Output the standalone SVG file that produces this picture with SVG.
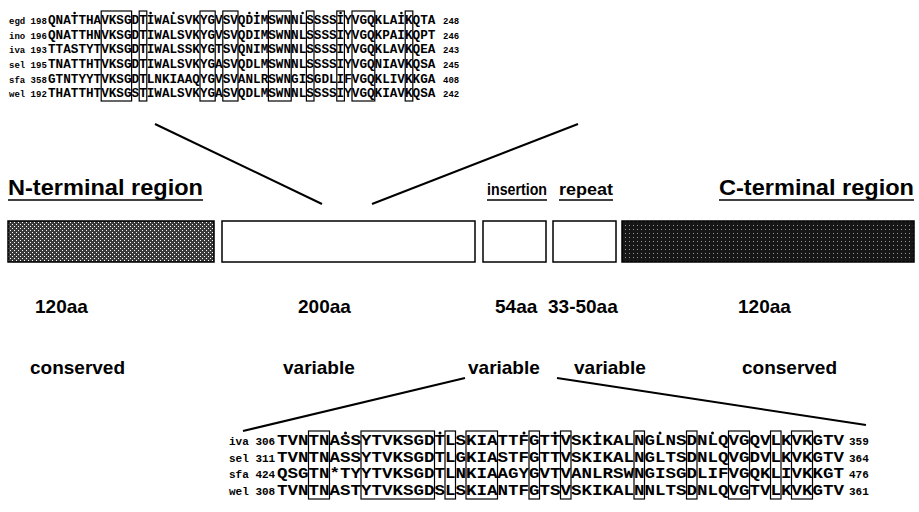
<svg xmlns="http://www.w3.org/2000/svg" width="919" height="512" viewBox="0 0 919 512">
<defs>
<pattern id="pn" width="4" height="4" patternUnits="userSpaceOnUse"><rect width="4" height="4" fill="#3a3a3a"/><rect x="0" y="0" width="1" height="1" fill="#fff"/><rect x="2" y="2" width="1" height="1" fill="#fff"/></pattern>
<pattern id="pc" width="4" height="4" patternUnits="userSpaceOnUse"><rect width="4" height="4" fill="#161616"/><rect x="1" y="1" width="1" height="1" fill="#999"/></pattern>
<style>
.seq{font-family:"Liberation Mono",monospace;font-weight:bold;font-size:12.67px;fill:#000}
.bseq{font-family:"Liberation Mono",monospace;font-weight:bold;font-size:14.5px;fill:#000}
.lab{font-family:"Liberation Mono",monospace;font-weight:bold;font-size:9px;fill:#000}
.blab{font-family:"Liberation Mono",monospace;font-weight:bold;font-size:11px;fill:#000}
.bx{fill:none;stroke:#000;stroke-width:1.2}
.dot{fill:#000}
.ttl{font-family:"Liberation Sans",Arial,sans-serif;font-weight:bold;font-size:22px;fill:#000}
.ttl2{font-family:"Liberation Sans",Arial,sans-serif;font-weight:bold;font-size:17px;fill:#000}
.sz{font-family:"Liberation Sans",Arial,sans-serif;font-weight:bold;font-size:19px;fill:#000}
.ul{stroke:#000;stroke-width:1.5}
.ln{stroke:#000;stroke-width:2;fill:none}
</style>
</defs>
<g id="top-alignment">
<text class="lab" x="9" y="24.2">egd 198</text>
<text class="lab" x="9" y="38.8">ino 196</text>
<text class="lab" x="9" y="53.4">iva 193</text>
<text class="lab" x="9" y="68">sel 195</text>
<text class="lab" x="9" y="82.6">sfa 358</text>
<text class="lab" x="9" y="97.2">wel 192</text>
<text class="seq" x="48" y="24.2">QNATTHAVKSGDTIWALSVKYGVSVQDIMSWNNLSSSSIYVGQKLAIKQTA</text>
<text class="seq" x="48" y="38.8">QNATTHNVKSGDTIWALSVKYGVSVQDIMSWNNLSSSSIYVGQKPAIKQPT</text>
<text class="seq" x="48" y="53.4">TTASTYTVKSGDTIWALSSKYGTSVQNIMSWNNLSSSSIYVGQKLAVKQEA</text>
<text class="seq" x="48" y="68">TNATTHTVKSGDTIWALSVKYGASVQDLMSWNNLSSSSIYVGQNIAVKQSA</text>
<text class="seq" x="48" y="82.6">GTNTYYTVKSGDTLNKIAAQYGVSVANLRSWNGISGDLIFVGQKLIVKKGA</text>
<text class="seq" x="48" y="97.2">THATTHTVKSGSTIWALSVKYGASVQDLMSWNNLSSSSIYVGQKIAVKQSA</text>
<text class="lab" x="443" y="24.2">248</text>
<text class="lab" x="443" y="38.8">246</text>
<text class="lab" x="443" y="53.4">243</text>
<text class="lab" x="443" y="68">245</text>
<text class="lab" x="443" y="82.6">408</text>
<text class="lab" x="443" y="97.2">242</text>
<rect class="bx" x="101.2" y="11" width="30.4" height="90"/>
<rect class="bx" x="139.2" y="11" width="7.6" height="90"/>
<rect class="bx" x="200" y="11" width="15.2" height="90"/>
<rect class="bx" x="222.8" y="11" width="15.2" height="90"/>
<rect class="bx" x="268.4" y="11" width="22.8" height="90"/>
<rect class="bx" x="306.4" y="11" width="7.6" height="90"/>
<rect class="bx" x="336.8" y="11" width="7.6" height="90"/>
<rect class="bx" x="352" y="11" width="22.8" height="90"/>
<rect class="bx" x="405.2" y="11" width="7.6" height="90"/>
<circle class="dot" cx="74.6" cy="13" r="1.3"/>
<circle class="dot" cx="150.6" cy="13" r="1.3"/>
<circle class="dot" cx="173.4" cy="13" r="1.3"/>
<circle class="dot" cx="249.4" cy="13" r="1.3"/>
<circle class="dot" cx="257" cy="13" r="1.3"/>
<circle class="dot" cx="302.6" cy="13" r="1.3"/>
<circle class="dot" cx="340.6" cy="13" r="1.3"/>
<circle class="dot" cx="401.4" cy="13" r="1.3"/>
</g>
<g id="n-terminal">
<text class="ttl" x="8" y="195" textLength="195" lengthAdjust="spacingAndGlyphs">N-terminal region</text>
<line class="ul" x1="8" y1="200" x2="203" y2="200"/>
<rect x="8" y="221" width="206" height="41" fill="url(#pn)" stroke="#000" stroke-width="1.5"/>
<text class="sz" x="35" y="313">120aa</text>
<text class="sz" x="30" y="374">conserved</text>
</g>
<g id="variable-200">
<rect x="222" y="221" width="253" height="41" fill="#fff" stroke="#000" stroke-width="1.5"/>
<text class="sz" x="298" y="313">200aa</text>
<text class="sz" x="283" y="374">variable</text>
</g>
<g id="insertion">
<text class="ttl2" x="487" y="195" textLength="60" lengthAdjust="spacingAndGlyphs">insertion</text>
<line class="ul" x1="487" y1="200" x2="547" y2="200"/>
<rect x="483" y="221" width="63" height="41" fill="#fff" stroke="#000" stroke-width="1.5"/>
<text class="sz" x="495" y="313">54aa</text>
<text class="sz" x="468" y="374">variable</text>
</g>
<g id="repeat">
<text class="ttl2" x="559" y="195" textLength="54" lengthAdjust="spacingAndGlyphs">repeat</text>
<line class="ul" x1="559" y1="200" x2="613" y2="200"/>
<rect x="553" y="221" width="63" height="41" fill="#fff" stroke="#000" stroke-width="1.5"/>
<text class="sz" x="548" y="313">33-50aa</text>
<text class="sz" x="574" y="374">variable</text>
</g>
<g id="c-terminal">
<text class="ttl" x="719" y="195" textLength="195" lengthAdjust="spacingAndGlyphs">C-terminal region</text>
<line class="ul" x1="719" y1="200" x2="914" y2="200"/>
<rect x="622" y="221" width="292" height="41" fill="url(#pc)" stroke="#000" stroke-width="1.5"/>
<text class="sz" x="738" y="313">120aa</text>
<text class="sz" x="742" y="374">conserved</text>
</g>
<g id="connectors">
<line class="ln" x1="322" y1="204" x2="155" y2="124"/>
<line class="ln" x1="372" y1="204" x2="578" y2="124"/>
<line class="ln" x1="465" y1="378" x2="243" y2="431"/>
<line class="ln" x1="557" y1="378" x2="866" y2="425"/>
</g>
<g id="bottom-alignment">
<text class="blab" x="229" y="445">iva 306</text>
<text class="blab" x="229" y="461.5">sel 311</text>
<text class="blab" x="229" y="478">sfa 424</text>
<text class="blab" x="229" y="494.5">wel 308</text>
<text class="bseq" x="277" y="445" textLength="567" lengthAdjust="spacingAndGlyphs">TVNTNASSYTVKSGDTLSKIATTFGTTVSKIKALNGLNSDNLQVGQVLKVKGTV</text>
<text class="bseq" x="277" y="461.5" textLength="567" lengthAdjust="spacingAndGlyphs">TVNTNASSYTVKSGDTLGKIASTFGTTVSKIKALNGLTSDNLQVGDVLKVKGTV</text>
<text class="bseq" x="277" y="478" textLength="567" lengthAdjust="spacingAndGlyphs">QSGTN*TYYTVKSGDTLNKIAAGYGVTVANLRSWNGISGDLIFVGQKLIVKKGT</text>
<text class="bseq" x="277" y="494.5" textLength="567" lengthAdjust="spacingAndGlyphs">TVNTNASTYTVKSGDSLSKIANTFGTSVSKIKALNNLTSDNLQVGTVLKVKGTV</text>
<text class="blab" x="849" y="445">359</text>
<text class="blab" x="849" y="461.5">364</text>
<text class="blab" x="849" y="478">476</text>
<text class="blab" x="849" y="494.5">361</text>
<rect class="bx" x="308.5" y="431" width="21" height="68"/>
<rect class="bx" x="361" y="431" width="73.5" height="68"/>
<rect class="bx" x="445" y="431" width="10.5" height="68"/>
<rect class="bx" x="466" y="431" width="31.5" height="68"/>
<rect class="bx" x="529" y="431" width="10.5" height="68"/>
<rect class="bx" x="560.5" y="431" width="10.5" height="68"/>
<rect class="bx" x="634" y="431" width="10.5" height="68"/>
<rect class="bx" x="686.5" y="431" width="10.5" height="68"/>
<rect class="bx" x="728.5" y="431" width="21" height="68"/>
<rect class="bx" x="770.5" y="431" width="10.5" height="68"/>
<rect class="bx" x="791.5" y="431" width="21" height="68"/>
<circle class="dot" cx="345.5" cy="433" r="1.5"/>
<circle class="dot" cx="440" cy="433" r="1.5"/>
<circle class="dot" cx="524" cy="433" r="1.5"/>
<circle class="dot" cx="555" cy="433" r="1.5"/>
<circle class="dot" cx="597" cy="433" r="1.5"/>
<circle class="dot" cx="660" cy="433" r="1.5"/>
<circle class="dot" cx="712.5" cy="433" r="1.5"/>
</g>
</svg>
